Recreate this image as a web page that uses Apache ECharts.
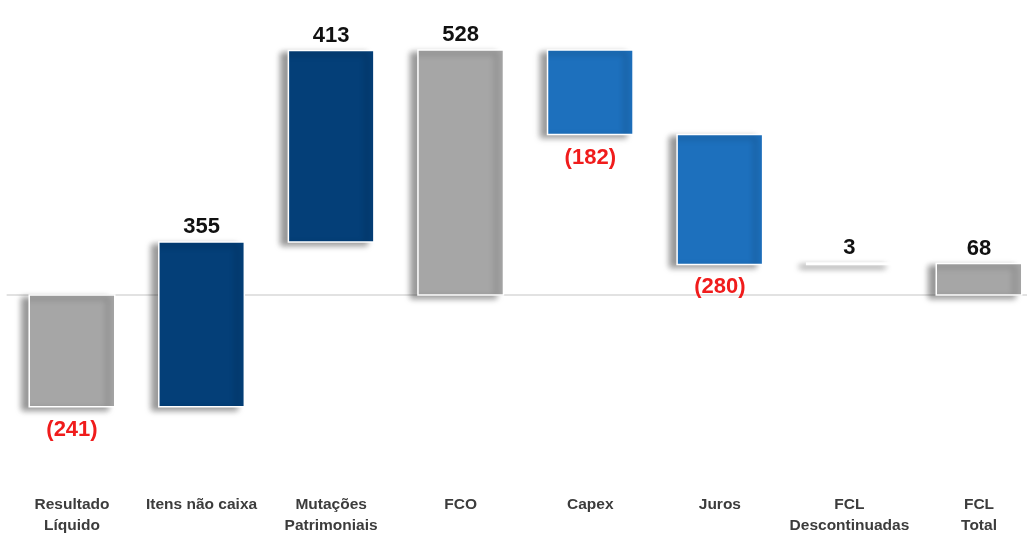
<!DOCTYPE html>
<html><head><meta charset="utf-8">
<script src="https://cdn.jsdelivr.net/npm/echarts@6/dist/echarts.min.js"></script>
<style>html,body{margin:0;padding:0;background:#fff}#c{width:1027px;height:534px}</style>
</head><body><div id="c"></div>
<script>
const categories = ['Resultado\nLíquido', 'Itens não caixa', 'Mutações\nPatrimoniais', 'FCO', 'Capex', 'Juros', 'FCL\nDescontinuadas', 'FCL\nTotal'];
const values = [-241, 355, 413, 528, -182, -280, 3, 68];
const isTotal = [true, false, false, true, false, false, false, true];
const colors = ['#a6a6a6', '#043f78', '#043f78', '#a6a6a6', '#1d70bd', '#1d70bd', '#ffffff', '#a6a6a6'];

// build floating bar ranges
let running = 0;
const data = values.map((v, i) => {
  let s, e;
  if (isTotal[i]) { s = 0; e = v; }
  else { s = running; e = running + v; }
  running = e;
  return [i, s, e, v];
});

const chart = echarts.init(document.getElementById('c'));
chart.setOption({
  animation: false,
  grid: { left: 7.2, width: 1036.6, top: 16.6, height: 417.6, outerBoundsMode: 'none', containLabel: false },
  xAxis: [{
    type: 'category', data: categories, position: 'bottom',
    axisLine: { show: false, onZero: false }, axisTick: { show: false },
    axisLabel: { interval: 0, margin: 60, color: '#3c3c3c', fontSize: 15.5, fontWeight: 'bold',
      fontFamily: 'Liberation Sans', lineHeight: 21 }
  }, {
    type: 'category', data: categories, position: 'bottom',
    axisLine: { show: true, onZero: true, lineStyle: { color: '#d9d9d9', width: 1.5 } },
    axisTick: { show: false }, axisLabel: { show: false }
  }],
  yAxis: { type: 'value', min: -300, max: 600, show: false, splitLine: { show: false } },
  series: [{
    type: 'custom',
    xAxisIndex: 0,
    encode: { x: 0, y: [1, 2] },
    data: data,
    renderItem: function (params, api) {
      const i = api.value(0), s = api.value(1), e = api.value(2), v = api.value(3);
      const p1 = api.coord([i, s]), p2 = api.coord([i, e]);
      const w = api.size([1, 0])[0] * 0.66;
      const top = Math.min(p1[1], p2[1]);
      const h = Math.abs(p1[1] - p2[1]);
      const neg = v < 0;
      return {
        type: 'group',
        children: [{
          type: 'rect',
          shape: { x: p1[0] - w / 2, y: top, width: w, height: h },
          style: { fill: colors[i], stroke: '#ffffff', lineWidth: 1.5,
            shadowBlur: 6, shadowOffsetX: -7, shadowOffsetY: 3, shadowColor: 'rgba(0,0,0,0.4)' }
        }, {
          type: 'text',
          style: {
            text: neg ? '(' + (-v) + ')' : String(v),
            x: p1[0], y: neg ? top + h + 12 : top - 4,
            align: 'center', verticalAlign: neg ? 'top' : 'bottom',
            fill: neg ? '#f01c1c' : '#111111',
            fontSize: 22, fontWeight: 'bold', fontFamily: 'Liberation Sans'
          }
        }]
      };
    }
  }]
});
</script></body></html>
